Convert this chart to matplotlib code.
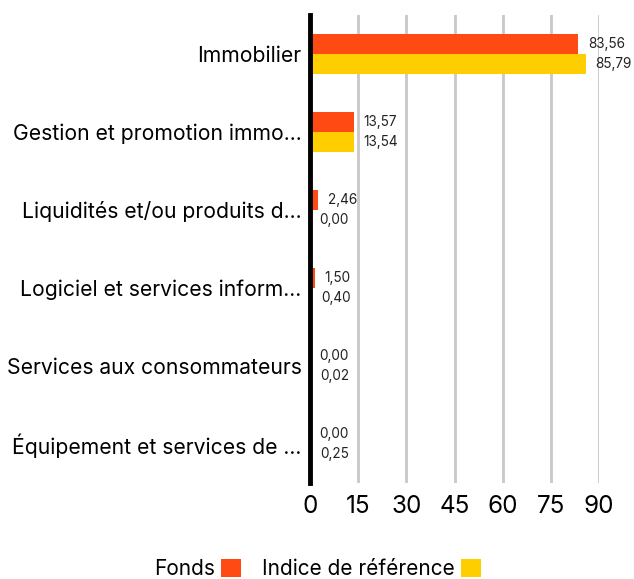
import matplotlib.pyplot as plt
import numpy as np

plt.rcParams['font.family'] = ['Inter', 'DejaVu Sans']

categories = ['Immobilier', 'Gestion et promotion immo...', 'Liquidités et/ou produits d...',
              'Logiciel et services inform...', 'Services aux consommateurs',
              'Équipement et services de ...']
fonds = [83.56, 13.57, 2.46, 1.50, 0.00, 0.00]
indice = [85.79, 13.54, 0.00, 0.40, 0.02, 0.25]
ticks = [0, 15, 30, 45, 60, 75, 90]

red = '#FF4A14'
yellow = '#FFCE00'

fig = plt.figure(figsize=(6.34, 5.79), dpi=100)
ax = fig.add_axes([0.489, 0.166, 0.456, 0.808])

y = np.arange(len(categories))
h = 0.26
b1 = ax.barh(y - h / 2, fonds, height=h, color=red, label='Fonds', zorder=3)
b2 = ax.barh(y + h / 2, indice, height=h, color=yellow, label='Indice de référence', zorder=3)

for bars, vals in ((b1, fonds), (b2, indice)):
    for bar, v in zip(bars, vals):
        ax.annotate(f'{v:.2f}'.replace('.', ','),
                    (bar.get_width(), bar.get_y() + bar.get_height() / 2),
                    xytext=(7, 0), textcoords='offset points',
                    va='center', ha='left', fontsize=9.8, color='#222222',
                    annotation_clip=False)

ax.set_ylim(len(categories) - 0.5, -0.5)
ax.set_xlim(0, 90)
ax.set_yticks(y)
ax.set_yticklabels(categories, fontsize=15.2)
ax.set_xticks(ticks)
ax.set_xticklabels([str(t) for t in ticks], fontsize=17.5)
ax.tick_params(axis='both', length=0)
ax.tick_params(axis='x', pad=9)
ax.tick_params(axis='y', pad=6)

ax.grid(axis='x', color='#c8c8c8', linewidth=2, zorder=0)
for s in ['top', 'right', 'bottom']:
    ax.spines[s].set_visible(False)
ax.spines['left'].set_linewidth(3.5)
ax.spines['left'].set_color('black')
ax.spines['left'].set_zorder(4)

fig.legend(handles=[b1, b2], loc='center', bbox_to_anchor=(0.501, 0.017), ncol=2,
           frameon=False, fontsize=15, markerfirst=False, handlelength=0.95,
           handleheight=0.95, handletextpad=0.3, columnspacing=1.0)

fig.savefig('out.png', dpi=100)
